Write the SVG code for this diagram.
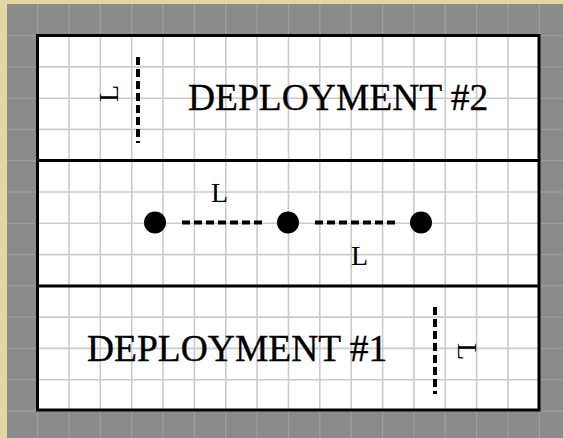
<svg xmlns="http://www.w3.org/2000/svg" width="563" height="438" viewBox="0 0 563 438">
  <style>
    .big { font-family: "Liberation Serif", "DejaVu Serif", serif; font-size: 37.5px; fill: #000; stroke: #000; stroke-width: 0.35; }
    .lbl { font-family: "Liberation Serif", "DejaVu Serif", serif; font-size: 28px; fill: #000; }
    .dash { stroke: #000; stroke-width: 4; stroke-dasharray: 8 4; fill: none; }
    .dot { fill: #000; }
    .gridG { stroke: #9e9e9e; stroke-width: 1.3; fill: none; }
    .gridW { stroke: #cbcbcb; stroke-width: 1.6; fill: none; }
    .frame { stroke: #000; stroke-width: 3; fill: none; }
  </style>
  <!-- background -->
  <rect x="0" y="0" width="563" height="438" fill="#e4d8a2"/>
  <rect x="7" y="4" width="556" height="434" fill="#8b8b8b"/>
  <path class="gridG" d="M37.6 4V438 M69 4V438 M100.3 4V438 M131.7 4V438 M163 4V438 M194.4 4V438 M225.8 4V438 M257.1 4V438 M288.5 4V438 M319.8 4V438 M351.2 4V438 M382.6 4V438 M413.9 4V438 M445.3 4V438 M476.6 4V438 M508 4V438 M539.4 4V438 M7 35.6H563 M7 66.9H563 M7 98.2H563 M7 129.4H563 M7 160.7H563 M7 192H563 M7 223.3H563 M7 254.6H563 M7 285.8H563 M7 317.1H563 M7 348.4H563 M7 379.7H563 M7 411H563"/>
  <!-- panel -->
  <g id="panel">
    <rect x="37.5" y="35.5" width="501.5" height="374.5" fill="#ffffff"/>
    <path class="gridW" d="M69 35.6V410 M100.3 35.6V410 M131.7 35.6V410 M163 35.6V410 M194.4 35.6V410 M225.8 35.6V410 M257.1 35.6V410 M288.5 35.6V410 M319.8 35.6V410 M351.2 35.6V410 M382.6 35.6V410 M413.9 35.6V410 M445.3 35.6V410 M476.6 35.6V410 M508 35.6V410 M37.6 66.9H539 M37.6 98.2H539 M37.6 129.4H539 M37.6 192H539 M37.6 223.3H539 M37.6 254.6H539 M37.6 317.1H539 M37.6 348.4H539 M37.6 379.7H539"/>
    <rect class="frame" x="37.5" y="35.5" width="501.5" height="374.5"/>
    <line class="frame" x1="37.5" y1="160.5" x2="539" y2="160.5"/>
    <line class="frame" x1="37.5" y1="286" x2="539" y2="286"/>
  </g>
  <g id="deployment2">
    <text class="big" x="188" y="110">DEPLOYMENT #2</text>
  </g>
  <g id="deployment1">
    <text class="big" x="87" y="361">DEPLOYMENT #1</text>
  </g>
  <g id="dot1"><circle class="dot" cx="155" cy="222.5" r="11"/></g>
  <g id="dot2"><circle class="dot" cx="288" cy="222.5" r="11"/></g>
  <g id="dot3"><circle class="dot" cx="421" cy="222.5" r="11"/></g>
  <g id="connectors">
    <line class="dash" x1="138" y1="57" x2="138" y2="143"/>
    <line class="dash" x1="435" y1="307" x2="435" y2="394"/>
    <line class="dash" x1="182" y1="222.5" x2="264" y2="222.5"/>
    <line class="dash" x1="315" y1="222.5" x2="397" y2="222.5"/>
  </g>
  <g id="labels">
    <text class="lbl" transform="translate(118,102) rotate(-90)" x="0" y="0">L</text>
    <text class="lbl" transform="translate(458,343) rotate(90)" x="0" y="0">L</text>
    <text class="lbl" x="211" y="202">L</text>
    <text class="lbl" x="351" y="265">L</text>
  </g>
</svg>
